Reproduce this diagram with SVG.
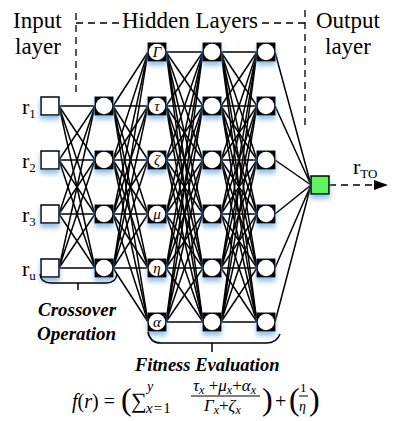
<svg xmlns="http://www.w3.org/2000/svg" width="393" height="421" viewBox="0 0 393 421">
<style>
text{font-family:"Liberation Serif","Tinos","Times New Roman","DejaVu Serif",serif;fill:#000}
.bi{font-weight:bold;font-style:italic}
.gk{font-style:italic;font-size:15px;text-anchor:middle}
.dash{stroke:#000;stroke-width:1.3;stroke-dasharray:7 5;fill:none}
.in{fill:#fff;stroke:#000;stroke-width:1.5}
#conn path{stroke:#000;stroke-width:1.5;fill:none}
.br{stroke:#000;stroke-width:1.5;fill:none}
.it{font-style:italic}
</style>
<defs>
<filter id="glow" x="-50%" y="-50%" width="200%" height="220%">
<feFlood flood-color="#6fa8e0" flood-opacity="0.75"/>
<feComposite in2="SourceAlpha" operator="in"/>
<feOffset dy="4"/>
<feGaussianBlur stdDeviation="2.5"/>
<feMerge><feMergeNode/><feMergeNode in="SourceGraphic"/></feMerge>
</filter>
<g id="hn"><rect x="-9.5" y="-9.5" width="19" height="19" fill="#000"/><circle r="8.3" fill="#fff"/></g>
<marker id="arr" viewBox="0 0 14 10" refX="14" refY="5" markerWidth="14" markerHeight="10" markerUnits="userSpaceOnUse" orient="auto"><path d="M0 0L14 5L0 10z" fill="#000"/></marker>
</defs>
<rect width="393" height="421" fill="#fff"/>

<g id="labels-top">
<text x="13" y="28" font-size="23">Input</text>
<text x="15" y="54" font-size="23">layer</text>
<text x="122" y="28" font-size="23">Hidden Layers</text>
<text x="316" y="28" font-size="23">Output</text>
<text x="325" y="54" font-size="23">layer</text>
<path class="dash" d="M76 13V95M76 23H120"/>
<path class="dash" d="M262 23H305M305 10V127"/>
</g>

<g id="conn">
<path d="M59 106L95 106M59 106L95 160M59 106L95 214M59 106L95 268"/>
<path d="M59 160L95 106M59 160L95 160M59 160L95 214M59 160L95 268"/>
<path d="M59 214L95 106M59 214L95 160M59 214L95 214M59 214L95 268"/>
<path d="M59 268L95 106M59 268L95 160M59 268L95 214M59 268L95 268"/>
<path d="M113 106L148 52M113 106L148 106M113 106L148 160M113 106L148 214M113 106L148 268M113 106L148 322"/>
<path d="M113 160L148 52M113 160L148 106M113 160L148 160M113 160L148 214M113 160L148 268M113 160L148 322"/>
<path d="M113 214L148 52M113 214L148 106M113 214L148 160M113 214L148 214M113 214L148 268M113 214L148 322"/>
<path d="M113 268L148 52M113 268L148 106M113 268L148 160M113 268L148 214M113 268L148 268M113 268L148 322"/>
<path d="M166 52L203 52M166 52L203 106M166 52L203 160M166 52L203 214M166 52L203 268M166 52L203 322"/>
<path d="M166 106L203 52M166 106L203 106M166 106L203 160M166 106L203 214M166 106L203 268M166 106L203 322"/>
<path d="M166 160L203 52M166 160L203 106M166 160L203 160M166 160L203 214M166 160L203 268M166 160L203 322"/>
<path d="M166 214L203 52M166 214L203 106M166 214L203 160M166 214L203 214M166 214L203 268M166 214L203 322"/>
<path d="M166 268L203 52M166 268L203 106M166 268L203 160M166 268L203 214M166 268L203 268M166 268L203 322"/>
<path d="M166 322L203 52M166 322L203 106M166 322L203 160M166 322L203 214M166 322L203 268M166 322L203 322"/>
<path d="M221 52L257 52M221 52L257 106M221 52L257 160M221 52L257 214M221 52L257 268M221 52L257 322"/>
<path d="M221 106L257 52M221 106L257 106M221 106L257 160M221 106L257 214M221 106L257 268M221 106L257 322"/>
<path d="M221 160L257 52M221 160L257 106M221 160L257 160M221 160L257 214M221 160L257 268M221 160L257 322"/>
<path d="M221 214L257 52M221 214L257 106M221 214L257 160M221 214L257 214M221 214L257 268M221 214L257 322"/>
<path d="M221 268L257 52M221 268L257 106M221 268L257 160M221 268L257 214M221 268L257 268M221 268L257 322"/>
<path d="M221 322L257 52M221 322L257 106M221 322L257 160M221 322L257 214M221 322L257 268M221 322L257 322"/>
<path d="M275 52L311 185M275 106L311 185M275 160L311 185M275 214L311 185M275 268L311 185M275 322L311 185"/>
<path class="dash" d="M329 185H388" marker-end="url(#arr)" style="stroke-dasharray:7 5"/>
</g>

<g id="in-r1"><rect class="in" x="41" y="97" width="18" height="18" filter="url(#glow)"/><text x="22" y="114" font-size="22">r<tspan font-size="13" dy="4">1</tspan></text></g>
<g id="in-r2"><rect class="in" x="41" y="151" width="18" height="18" filter="url(#glow)"/><text x="22" y="168" font-size="22">r<tspan font-size="13" dy="4">2</tspan></text></g>
<g id="in-r3"><rect class="in" x="41" y="205" width="18" height="18" filter="url(#glow)"/><text x="22" y="222" font-size="22">r<tspan font-size="13" dy="4">3</tspan></text></g>
<g id="in-ru"><rect class="in" x="41" y="259" width="18" height="18" filter="url(#glow)"/><text x="22" y="276" font-size="22">r<tspan font-size="13" dy="4">u</tspan></text></g>

<g id="h1-1"><use href="#hn" x="104" y="106" filter="url(#glow)"/></g>
<g id="h1-2"><use href="#hn" x="104" y="160" filter="url(#glow)"/></g>
<g id="h1-3"><use href="#hn" x="104" y="214" filter="url(#glow)"/></g>
<g id="h1-4"><use href="#hn" x="104" y="268" filter="url(#glow)"/></g>

<g id="h2-gamma"><use href="#hn" x="157" y="52" filter="url(#glow)"/><text class="gk" x="157" y="57">Γ</text></g>
<g id="h2-tau"><use href="#hn" x="157" y="106" filter="url(#glow)"/><text class="gk" x="157" y="111">τ</text></g>
<g id="h2-zeta"><use href="#hn" x="157" y="160" filter="url(#glow)"/><text class="gk" x="157" y="165">ζ</text></g>
<g id="h2-mu"><use href="#hn" x="157" y="214" filter="url(#glow)"/><text class="gk" x="157" y="219">μ</text></g>
<g id="h2-eta"><use href="#hn" x="157" y="268" filter="url(#glow)"/><text class="gk" x="157" y="273">η</text></g>
<g id="h2-alpha"><use href="#hn" x="157" y="322" filter="url(#glow)"/><text class="gk" x="157" y="327">α</text></g>

<g id="h3-1"><use href="#hn" x="212" y="52" filter="url(#glow)"/></g>
<g id="h3-2"><use href="#hn" x="212" y="106" filter="url(#glow)"/></g>
<g id="h3-3"><use href="#hn" x="212" y="160" filter="url(#glow)"/></g>
<g id="h3-4"><use href="#hn" x="212" y="214" filter="url(#glow)"/></g>
<g id="h3-5"><use href="#hn" x="212" y="268" filter="url(#glow)"/></g>
<g id="h3-6"><use href="#hn" x="212" y="322" filter="url(#glow)"/></g>

<g id="h4-1"><use href="#hn" x="266" y="52" filter="url(#glow)"/></g>
<g id="h4-2"><use href="#hn" x="266" y="106" filter="url(#glow)"/></g>
<g id="h4-3"><use href="#hn" x="266" y="160" filter="url(#glow)"/></g>
<g id="h4-4"><use href="#hn" x="266" y="214" filter="url(#glow)"/></g>
<g id="h4-5"><use href="#hn" x="266" y="268" filter="url(#glow)"/></g>
<g id="h4-6"><use href="#hn" x="266" y="322" filter="url(#glow)"/></g>

<g id="out"><rect x="311" y="176" width="18" height="18" fill="#5ef25e" stroke="#000" stroke-width="1.5" filter="url(#glow)"/>
<text x="353" y="174" font-size="22">r<tspan font-size="13" dy="4">TO</tspan></text></g>

<g id="crossover">
<path class="br" d="M40 274Q41 283 51 283H106Q116 283 117 274M78 283V290"/>
<text class="bi" x="38" y="316" font-size="19">Crossover</text>
<text class="bi" x="37" y="340" font-size="19">Operation</text>
</g>

<g id="fitness">
<path class="br" d="M148 332Q150 343 161 343H266Q277 343 280 334M212 343V352"/>
<text class="bi" x="135" y="371" font-size="18.5">Fitness Evaluation</text>
</g>

<g id="formula">
<text x="72" y="408" font-size="20"><tspan class="it">f</tspan>(<tspan class="it">r</tspan>) =</text>
<text x="121" y="410" font-size="32">(</text>
<text x="131" y="408" font-size="22">∑</text>
<text x="147" y="391" font-size="14" class="it">y</text>
<text x="146" y="413" font-size="15" letter-spacing="1"><tspan class="it">x</tspan>=1</text>
<text x="193" y="391" font-size="17"><tspan class="it">τ</tspan><tspan font-size="12" dy="3" class="it">x</tspan><tspan dy="-3"> +</tspan><tspan class="it">μ</tspan><tspan font-size="12" dy="3" class="it">x</tspan><tspan dy="-3">+</tspan><tspan class="it">α</tspan><tspan font-size="12" dy="3" class="it">x</tspan></text>
<path d="M191 396H260" stroke="#000" stroke-width="1.1"/>
<text x="204" y="411" font-size="17"><tspan class="it">Γ</tspan><tspan font-size="12" dy="3" class="it">x</tspan><tspan dy="-3">+</tspan><tspan class="it">ζ</tspan><tspan font-size="12" dy="3" class="it">x</tspan></text>
<text x="262" y="410" font-size="32">)</text>
<text x="275" y="408" font-size="20">+</text>
<text x="289" y="410" font-size="32">(</text>
<text x="300" y="392" font-size="13">1</text>
<path d="M299 396H308" stroke="#000" stroke-width="1"/>
<text x="299" y="411" font-size="14" class="it">η</text>
<text x="309" y="410" font-size="32">)</text>
</g>
</svg>
